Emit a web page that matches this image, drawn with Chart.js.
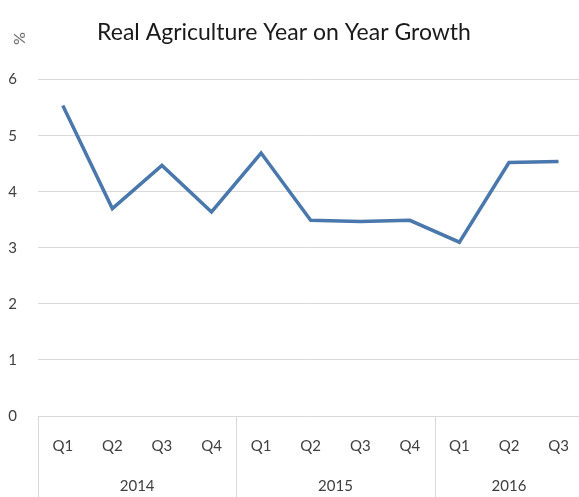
<!DOCTYPE html>
<html>
<head>
<meta charset="utf-8">
<script src="https://cdn.jsdelivr.net/npm/chart.js@4/dist/chart.umd.min.js"></script>
<style>
  html, body { margin: 0; padding: 0; background: #fff; overflow: hidden; }
  #wrap { position: relative; width: 590px; height: 497px; }
  #unit { position: absolute; left: 12px; top: 29px; font: 16px Lato, sans-serif; color: #595959; transform: rotate(-90deg); transform-origin: center center; }
</style>
</head>
<body>
<div id="wrap">
  <canvas id="c" width="590" height="497"></canvas>
  <div id="unit">%</div>
</div>
<script>
const quarterLabels = ['Q1','Q2','Q3','Q4','Q1','Q2','Q3','Q4','Q1','Q2','Q3'];
const yearLabels = ['2014','2015','2016'];
const yearFirstIndex = [0, 4, 8];
const yearQuarterCount = [4, 4, 3];
const growth = [5.54, 3.70, 4.47, 3.64, 4.69, 3.49, 3.47, 3.49, 3.10, 4.52, 4.54];
const yTicks = [0, 1, 2, 3, 4, 5, 6];

const FONT = 'Lato, sans-serif';
const GRID = '#d9d9d9';

const separators = {
  id: 'separators',
  afterDraw(chart) {
    const x = chart.scales.x;
    const ctx = chart.ctx;
    const w = x.getPixelForValue(1) - x.getPixelForValue(0);
    ctx.save();
    ctx.strokeStyle = GRID;
    ctx.lineWidth = 1;
    yearFirstIndex.forEach(i => {
      const px = Math.round(x.getPixelForValue(i) - w / 2) + 0.5;
      ctx.beginPath();
      ctx.moveTo(px, x.top);
      ctx.lineTo(px, chart.height);
      ctx.stroke();
    });
    ctx.restore();
  }
};

new Chart(document.getElementById('c'), {
  type: 'line',
  data: {
    labels: quarterLabels,
    datasets: [{
      data: growth,
      borderColor: '#4a78ac',
      borderWidth: 3.5,
      pointRadius: 0,
      tension: 0,
      fill: false
    }]
  },
  options: {
    responsive: false,
    animation: false,
    layout: { padding: { left: -20, right: 2, top: 0, bottom: 3 } },
    plugins: {
      legend: { display: false },
      tooltip: { enabled: false },
      title: {
        display: true,
        text: 'Real Agriculture Year on Year Growth',
        color: '#1a1a1a',
        font: { family: FONT, size: 23, weight: 'normal' },
        padding: { top: 19, bottom: 33 }
      }
    },
    scales: {
      y: {
        min: 0, max: 6,
        afterBuildTicks: s => { s.ticks = yTicks.map(v => ({ value: v })); },
        afterFit: s => { s.width = 58; },
        border: { display: false },
        grid: { color: GRID, drawTicks: false, lineWidth: 1 },
        ticks: { color: '#404040', padding: 21, font: { family: FONT, size: 15 } }
      },
      x: {
        type: 'category',
        position: 'bottom',
        offset: true,
        afterFit: s => { s.height = 38; },
        border: { display: false },
        grid: { display: false, drawTicks: false },
        ticks: { color: '#404040', padding: 21, maxRotation: 0, autoSkip: false, font: { family: FONT, size: 15 } }
      },
      x2: {
        type: 'linear',
        position: 'bottom',
        min: -0.5,
        max: quarterLabels.length - 0.5,
        afterBuildTicks: s => {
          s.ticks = yearLabels.map((y, i) => ({ value: yearFirstIndex[i] + (yearQuarterCount[i] - 1) / 2 }));
        },
        afterFit: s => { s.height = 40; },
        border: { display: false },
        grid: { display: false, drawTicks: false },
        ticks: {
          color: '#404040', padding: 23, maxRotation: 0, autoSkip: false,
          font: { family: FONT, size: 15 },
          callback: (v, i) => yearLabels[i]
        }
      }
    }
  },
  plugins: [separators]
});
</script>
</body>
</html>
